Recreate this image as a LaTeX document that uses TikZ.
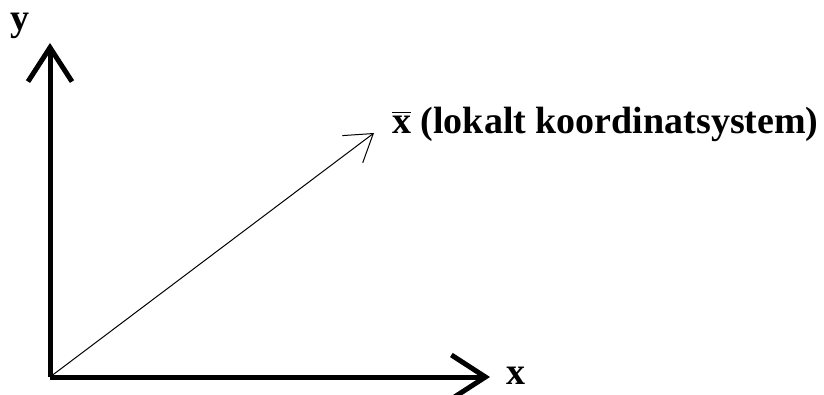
\documentclass[tikz,border=0pt]{standalone}
\usepackage{amsmath}
\usepackage{fontspec}
\setmainfont{Liberation Serif}
\usetikzlibrary{positioning,arrows.meta}

\tikzset{
  axis/.style={line width=5pt,-{Straight Barb[length=34pt,width=44pt,line width=5pt]}},
  local/.style={line width=1pt,-{Straight Barb[length=26pt,width=34pt,line width=1pt]}},
  lbl/.style={inner sep=0pt,font=\bfseries\fontsize{38}{40}\selectfont}
}

\begin{document}
\begin{tikzpicture}[x=1pt,y=1pt]
  \useasboundingbox (0,0) rectangle (824,394);

  \coordinate (o) at (50,17);
  \coordinate (ytip) at (50,351);
  \coordinate (xtip) at (490,17);
  \coordinate (xbtip) at (374,261);

  \node[lbl] (ylab) at (20,368) {y};
  \node[lbl] (xlab) at (516,18) {x};
  \node[lbl,anchor=west] (xblab) at (392,270) {$\overline{\text{x}}$ (lokalt koordinatsystem)};

  \draw[axis] (o) -- (ytip);
  \draw[axis] (o) -- (xtip);
  \draw[local] (o) -- (xbtip);
\end{tikzpicture}
\end{document}
